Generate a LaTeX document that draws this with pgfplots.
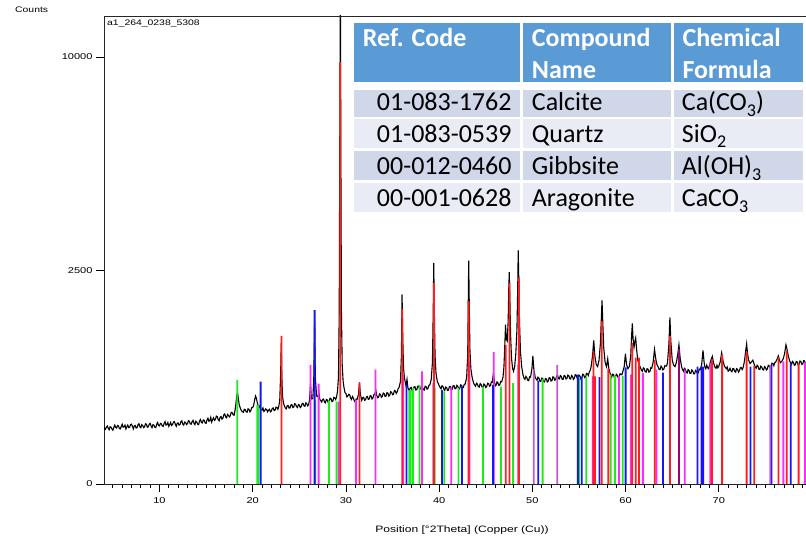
\documentclass[border=0pt]{standalone}
\usepackage{fontspec}
\setmainfont{Liberation Sans}
\newfontfamily\tabfont{Carlito}
\newfontfamily\axfont[FakeStretch=1.3]{Liberation Sans}
\usepackage{pgfplots}
\pgfplotsset{compat=1.18}
\definecolor{hdr}{RGB}{91,155,213}
\definecolor{rowA}{RGB}{207,215,233}
\definecolor{rowB}{RGB}{233,236,245}
\definecolor{calc}{RGB}{255,30,30}
\definecolor{quar}{RGB}{20,20,255}
\definecolor{gibb}{RGB}{30,235,30}
\definecolor{arag}{RGB}{255,40,255}
\definecolor{mixp}{RGB}{190,90,200}
\definecolor{mixd}{RGB}{150,0,130}
\newcommand{\sub}[1]{\raisebox{-5.5bp}{\fontsize{18bp}{18bp}\selectfont #1}}

\pgfplotstableread{
x y
4.0 13.5
4.1 13.0
4.2 12.8
4.3 13.3
4.4 13.6
4.5 13.1
4.6 12.7
4.7 13.4
4.8 13.3
4.9 12.9
5.0 12.6
5.1 13.2
5.2 13.8
5.3 13.3
5.4 13.1
5.5 13.7
5.6 13.6
5.7 13.0
5.8 12.9
5.9 13.5
6.0 14.0
6.1 13.3
6.2 13.4
6.3 13.8
6.4 12.9
6.5 13.4
6.6 13.8
6.7 13.2
6.8 13.3
6.9 13.9
7.0 14.0
7.1 13.5
7.2 12.9
7.3 13.6
7.4 13.7
7.5 13.1
7.6 13.2
7.7 13.9
7.8 14.1
7.9 13.4
8.0 13.2
8.1 13.9
8.2 13.7
8.3 13.2
8.4 13.4
8.5 14.1
8.6 14.0
8.7 13.3
8.8 13.4
8.9 14.0
9.0 14.2
9.1 13.6
9.2 13.2
9.3 13.9
9.4 13.8
9.5 13.3
9.6 13.2
9.7 14.0
9.8 14.4
9.9 13.7
10.0 13.6
10.1 14.2
10.2 14.1
10.3 13.6
10.4 13.5
10.5 14.2
10.6 14.6
10.7 13.8
10.8 13.9
10.9 14.4
11.0 13.5
11.1 13.9
11.2 14.4
11.3 13.7
11.4 13.9
11.5 14.5
11.6 14.6
11.7 14.0
11.8 13.5
11.9 14.2
12.0 14.3
12.1 13.8
12.2 13.9
12.3 14.6
12.4 14.8
12.5 14.0
12.6 13.8
12.7 14.5
12.8 14.4
12.9 13.9
13.0 14.1
13.1 14.8
13.2 14.7
13.3 14.1
13.4 14.0
13.5 14.6
13.6 14.9
13.7 14.2
13.8 13.9
13.9 14.7
14.0 14.5
14.1 14.0
14.2 13.9
14.3 14.8
14.4 15.1
14.5 14.4
14.6 14.3
14.7 15.0
14.8 14.9
14.9 14.3
15.0 14.2
15.1 15.0
15.2 15.4
15.3 14.7
15.4 14.8
15.5 15.6
15.6 14.5
15.7 15.1
15.8 15.5
15.9 14.9
16.0 15.1
16.1 15.9
16.2 15.8
16.3 15.1
16.4 14.8
16.5 15.6
16.6 15.8
16.7 15.2
16.8 15.4
16.9 16.2
17.0 16.4
17.1 15.7
17.2 15.5
17.3 16.3
17.4 16.1
17.5 15.7
17.6 16.0
17.7 16.8
17.8 16.7
17.9 16.2
18.0 16.1
18.1 17.2
18.2 18.8
18.3 20.9
18.38 21.4
18.45 20.2
18.55 18.6
18.7 17.6
18.85 17.0
19.0 16.8
19.1 17.5
19.2 17.4
19.3 16.9
19.4 16.8
19.5 17.6
19.6 17.5
19.7 16.9
19.8 17.2
19.9 17.9
20.0 17.9
20.1 18.4
20.2 19.6
20.3 20.6
20.38 20.2
20.5 19.0
20.6 18.2
20.7 18.3
20.8 17.8
20.9 17.4
21.0 17.3
21.1 17.8
21.2 17.0
21.3 17.2
21.4 17.6
21.5 17.4
21.6 16.9
21.7 17.3
21.8 17.5
21.9 16.9
22.0 17.1
22.1 17.7
22.2 17.8
22.3 17.2
22.4 17.3
22.5 18.0
22.6 17.9
22.7 17.5
22.8 18.2
22.9 19.5
23.0 26.0
23.06 33.0
23.12 25.5
23.2 20.5
23.3 19.0
23.4 18.3
23.5 17.8
23.6 17.6
23.7 18.3
23.8 18.4
23.9 17.8
24.0 17.8
24.1 18.5
24.2 18.6
24.3 17.9
24.4 18.0
24.5 18.8
24.6 18.7
24.7 18.1
24.8 17.9
24.9 18.6
25.0 18.5
25.1 17.9
25.2 18.1
25.3 18.8
25.4 18.9
25.5 18.3
25.6 18.2
25.7 19.0
25.8 18.8
25.9 18.3
26.0 18.6
26.1 19.8
26.2 23.5
26.3 19.9
26.45 20.0
26.55 24.5
26.64 38.0
26.72 25.0
26.85 20.6
27.0 20.4
27.1 21.5
27.2 19.8
27.3 19.5
27.4 19.2
27.5 19.8
27.6 19.9
27.7 19.2
27.8 19.0
27.9 19.8
28.0 19.7
28.1 19.1
28.2 19.3
28.3 20.1
28.4 20.0
28.5 19.3
28.6 19.4
28.7 20.3
28.8 20.2
28.9 19.8
29.0 20.4
29.1 21.8
29.2 25.0
29.28 40.0
29.34 80.0
29.4 118.0
29.46 75.0
29.52 40.0
29.6 28.0
29.7 24.0
29.8 22.5
29.9 21.4
30.0 21.2
30.1 20.4
30.2 20.6
30.3 21.0
30.4 20.9
30.5 20.1
30.6 19.8
30.7 20.5
30.8 20.1
30.9 19.5
31.0 19.2
31.1 19.9
31.2 19.8
31.35 21.0
31.45 23.8
31.55 21.0
31.7 19.6
31.8 20.2
31.9 20.3
32.0 19.6
32.1 19.7
32.2 20.4
32.3 20.5
32.4 19.8
32.5 19.9
32.6 20.7
32.7 20.6
32.8 19.9
32.9 20.2
33.0 20.9
33.1 21.0
33.2 22.0
33.3 20.8
33.4 20.2
33.5 20.3
33.6 21.1
33.7 21.0
33.8 20.3
33.9 20.5
34.0 21.3
34.1 21.2
34.2 20.5
34.3 20.6
34.4 21.4
34.5 21.3
34.6 20.6
34.7 20.8
34.8 21.6
34.9 21.5
35.0 20.9
35.1 21.0
35.2 21.9
35.3 21.8
35.4 21.2
35.5 21.6
35.6 22.3
35.7 22.6
35.85 24.0
35.95 30.0
36.02 44.4
36.1 34.0
36.18 27.0
36.3 24.5
36.45 23.0
36.55 24.5
36.65 22.5
36.8 21.8
36.9 22.5
37.0 22.6
37.1 21.9
37.2 22.0
37.3 22.7
37.4 22.8
37.5 22.0
37.6 22.1
37.7 22.9
37.8 22.9
37.9 22.2
38.0 22.3
38.1 23.0
38.2 22.7
38.3 22.1
38.4 22.0
38.5 22.9
38.6 22.8
38.7 22.2
38.8 22.4
38.9 23.1
39.0 23.2
39.15 24.5
39.28 28.5
39.36 40.0
39.42 51.8
39.48 41.0
39.56 30.0
39.66 26.0
39.8 24.0
39.9 23.6
40.0 23.0
40.1 22.6
40.2 22.3
40.3 23.0
40.4 22.9
40.5 22.2
40.6 21.9
40.7 22.7
40.8 22.6
40.9 21.9
41.0 22.0
41.1 22.8
41.2 22.8
41.3 22.0
41.4 22.2
41.5 23.0
41.6 23.0
41.7 22.3
41.8 22.4
41.9 23.1
42.0 22.9
42.1 22.2
42.2 22.3
42.3 23.2
42.4 23.1
42.5 22.5
42.6 22.6
42.7 23.4
42.8 23.4
42.95 25.0
43.06 30.0
43.12 42.0
43.17 52.3
43.23 42.0
43.3 31.5
43.4 27.0
43.55 24.8
43.7 23.6
43.8 23.2
43.9 22.9
44.0 23.6
44.1 23.4
44.2 22.8
44.3 22.7
44.4 23.5
44.5 23.3
44.6 22.7
44.7 22.6
44.8 23.4
44.9 23.2
45.0 22.6
45.1 22.8
45.2 23.6
45.3 23.5
45.4 22.9
45.5 23.0
45.6 23.9
45.7 23.8
45.82 26.0
45.95 23.6
46.05 23.0
46.1 23.1
46.2 23.9
46.3 23.7
46.4 23.1
46.5 23.2
46.6 24.0
46.7 23.9
46.85 25.0
46.95 27.5
47.05 33.0
47.12 37.3
47.2 34.0
47.3 33.5
47.4 38.0
47.47 46.0
47.52 49.6
47.58 44.0
47.66 35.0
47.76 29.5
47.88 27.0
47.98 26.4
48.1 27.5
48.22 30.5
48.34 36.0
48.42 45.0
48.48 54.7
48.54 48.0
48.62 38.0
48.72 31.0
48.85 27.5
49.0 25.5
49.1 24.8
49.2 24.5
49.3 25.2
49.4 24.9
49.5 24.3
49.6 24.2
49.7 25.1
49.8 25.0
49.95 27.0
50.05 30.0
50.15 27.0
50.3 25.0
50.4 24.6
50.5 24.3
50.6 25.0
50.7 24.8
50.8 24.1
50.9 24.0
51.0 24.8
51.1 24.7
51.2 24.0
51.3 23.9
51.4 24.7
51.5 24.6
51.6 23.9
51.7 24.1
51.8 24.9
51.9 24.8
52.0 24.1
52.1 24.2
52.2 25.1
52.3 25.0
52.4 24.3
52.5 24.5
52.6 25.3
52.7 25.5
52.8 24.7
52.9 24.6
53.0 25.4
53.1 25.2
53.2 24.5
53.3 24.5
53.4 25.4
53.5 25.3
53.6 24.6
53.7 24.7
53.8 25.5
53.9 25.4
54.0 24.7
54.1 24.6
54.2 25.4
54.3 25.2
54.4 24.5
54.5 24.8
54.6 25.6
54.7 25.5
54.8 24.8
54.9 24.7
55.0 25.5
55.1 25.3
55.2 24.6
55.3 24.9
55.4 25.7
55.5 25.6
55.6 24.9
55.7 25.0
55.8 25.9
55.9 25.8
56.0 25.4
56.1 26.2
56.2 26.6
56.3 27.5
56.45 30.0
56.58 33.6
56.7 30.0
56.85 28.0
57.0 27.5
57.15 29.0
57.3 33.0
57.4 39.0
57.47 43.0
57.55 38.0
57.65 32.0
57.8 28.5
57.95 27.5
58.08 29.3
58.2 27.0
58.35 25.8
58.5 25.0
58.6 25.7
58.7 25.6
58.8 24.9
58.9 24.9
59.0 25.7
59.1 25.5
59.2 24.9
59.3 25.0
59.4 25.8
59.5 25.7
59.6 25.6
59.7 26.3
59.85 27.5
59.98 30.5
60.1 28.0
60.25 27.0
60.4 27.5
60.55 30.0
60.65 35.0
60.72 37.6
60.8 34.0
60.9 32.0
61.0 33.5
61.08 34.2
61.18 31.5
61.3 29.0
61.45 28.0
61.6 27.2
61.7 26.6
61.8 26.4
61.9 27.2
62.0 27.0
62.1 26.3
62.2 26.2
62.3 27.0
62.4 26.9
62.5 26.2
62.6 26.3
62.7 27.2
62.8 27.1
62.95 28.5
63.1 31.5
63.22 29.5
63.35 28.0
63.5 27.4
63.6 26.8
63.7 26.8
63.8 27.6
63.9 27.3
64.0 26.7
64.1 26.9
64.2 27.7
64.3 27.6
64.4 27.6
64.5 28.6
64.65 33.0
64.75 39.0
64.85 33.5
65.0 29.0
65.15 27.8
65.3 27.5
65.45 28.5
65.6 30.5
65.72 32.6
65.85 29.5
66.0 27.5
66.1 26.8
66.2 26.4
66.3 27.1
66.4 26.9
66.5 26.2
66.6 26.0
66.7 26.8
66.8 26.6
66.9 25.9
67.0 25.9
67.1 26.7
67.2 26.5
67.3 25.8
67.4 25.8
67.5 26.6
67.6 26.4
67.7 25.9
67.8 26.0
67.9 26.9
68.0 26.8
68.15 27.8
68.3 31.3
68.42 28.5
68.5 27.4
68.6 27.0
68.7 27.8
68.8 27.2
68.9 27.0
69.0 27.8
69.15 29.0
69.3 29.9
69.45 28.2
69.6 27.3
69.7 27.1
69.8 27.8
69.9 27.2
70.0 27.6
70.15 28.6
70.3 30.7
70.45 28.8
70.6 27.6
70.7 27.3
70.8 27.0
70.9 27.4
71.0 26.4
71.1 26.6
71.2 27.1
71.3 26.5
71.4 26.3
71.5 27.0
71.6 27.0
71.7 26.4
71.8 26.2
71.9 27.0
72.0 26.9
72.1 26.2
72.2 26.5
72.3 27.2
72.4 27.3
72.5 26.8
72.6 27.2
72.75 28.8
72.9 31.5
72.98 32.8
73.08 30.5
73.2 29.0
73.35 28.2
73.5 28.6
73.65 29.0
73.8 28.0
73.9 27.4
74.0 27.1
74.1 27.8
74.2 27.6
74.3 26.9
74.4 26.8
74.5 27.6
74.6 27.4
74.7 26.8
74.8 26.7
74.9 27.5
75.0 27.3
75.1 26.7
75.2 26.9
75.3 27.8
75.4 27.7
75.5 27.1
75.6 27.6
75.7 28.3
75.8 28.2
75.9 27.7
76.0 28.4
76.1 28.6
76.2 29.0
76.38 30.0
76.5 29.0
76.6 28.4
76.7 28.6
76.8 28.9
76.9 29.3
77.05 30.5
77.2 32.6
77.32 31.5
77.45 30.0
77.6 28.8
77.7 28.4
77.8 28.0
77.9 28.7
78.0 28.5
78.1 27.8
78.2 27.9
78.3 28.7
78.4 28.6
78.5 27.9
78.6 28.0
78.7 28.8
78.8 28.7
78.9 28.0
79.0 28.1
79.1 28.9
79.2 28.8
79.3 28.1
79.4 28.3
}\pattern

\begin{document}
\begin{tikzpicture}[x=1bp,y=1bp]
\useasboundingbox (0,0) rectangle (806,538);
\begin{axis}[
  at={(104bp,54bp)}, anchor=south west, scale only axis,
  width=702bp, height=468bp,
  xmin=4.05, xmax=79.35, ymin=0, ymax=109.6,
  axis x line*=bottom, axis y line*=left,
  axis line style={line width=0.9bp, black!85},
  xtick={10,20,...,70}, minor xtick={5,...,79},
  ytick={0,50,100}, yticklabels={0,2500,10000},
  tick align=outside, major tick length=8bp, minor tick length=4bp,
  tick style={black, line width=0.8bp},
  tick label style={font=\axfont\fontsize{8.5bp}{9bp}\selectfont},
  xticklabel style={yshift=-2bp},
  /pgf/number format/assume math mode=true,
  clip=true,
  stick/.style={ybar, bar width=1.8bp, bar shift=0pt, draw=none, fill=#1},
]
\addplot[black, line width=1.1bp, no marks] table[x=x,y=y] {\pattern};
% Gibbsite
\addplot[stick=gibb] coordinates {
(18.35,24.4) (20.48,18.5) (20.6,18.5) (26.7,19.7) (28.18,19.5) (29.0,19.3)
(36.8,22.0) (36.96,22.0) (37.2,22.5) (37.9,23.2) (39.53,22.5) (40.55,21.7)
(42.08,22.5) (44.7,22.8) (46.63,22.8) (47.92,23.6) (51.1,24.6) (55.02,24.8)
(55.77,25.0) (58.4,25.6) (58.86,25.3) (59.7,25.3)};
% Aragonite
\addplot[stick=arag] coordinates {
(26.2,27.9) (27.07,23.5) (29.22,19.3) (31.08,19.7) (33.17,26.8) (36.15,25.6)
(38.17,26.4) (41.29,22.8) (43.24,28.7) (45.85,30.9) (48.48,28.0) (56.48,25.2)
(59.28,25.3) (60.57,25.6) (61.85,26.0) (63.31,26.8) (66.34,26.8) (69.07,28.3)
(76.92,28.7) (79.25,28.5)};
% Quartz
\addplot[stick=quar] coordinates {
(20.85,24.0) (26.64,40.7) (36.5,23.2) (40.3,22.0) (42.45,22.8) (45.79,23.2)
(50.62,24.2) (54.88,25.6) (55.29,25.0) (57.2,25.0) (60.0,27.3) (64.02,26.1)
(67.7,27.5) (68.14,27.5) (68.32,27.5) (73.4,27.5) (75.65,27.9) (77.72,28.3)};
% overlapping lines (purple)
\addplot[stick=mixp] coordinates {
(39.38,23.6) (50.14,26.8) (52.66,27.9) (75.52,27.9)};
% Calcite
\addplot[stick=calc] coordinates {
(23.08,34.7) (29.4,98.8) (31.45,23.6) (36.05,41.0) (39.44,47.1) (43.16,42.8)
(47.15,32.6) (47.54,47.1) (48.55,48.3) (56.55,31.0) (56.72,25.2) (57.45,38.2)
(58.15,27.0) (60.72,33.0) (61.08,29.6) (61.44,29.6) (63.13,29.1) (64.76,34.7)
(69.25,29.1) (70.35,30.2) (72.98,30.8) (73.8,27.7) (76.4,29.7) (77.28,31.2)
(78.56,28.3)};
\addplot[stick=mixd] coordinates {(65.74,31.5)};
\end{axis}
% top frame line
\draw[line width=0.9bp, black!85] (104,522) -- (806,522);
% texts
\node[anchor=base west, inner sep=0, font=\axfont\fontsize{8bp}{9bp}\selectfont] at (15,525.5) {Counts};
\node[anchor=base west, inner sep=0, font=\axfont\fontsize{8bp}{9bp}\selectfont] at (107,512.5) {a1\_264\_0238\_5308};
\node[inner sep=0, font=\axfont\fontsize{9.3bp}{10bp}\selectfont] at (462,8) {Position [°2Theta] (Copper (Cu))};
% table
\fill[hdr] (354,456) rectangle (520,515);
\fill[hdr] (523,456) rectangle (671,515);
\fill[hdr] (674,456) rectangle (803,515);
\foreach \yb/\yt/\c in {421/448/rowA, 390/419/rowB, 358/387/rowA, 326/355/rowB}{
  \fill[\c] (354,\yb) rectangle (520,\yt);
  \fill[\c] (523,\yb) rectangle (671,\yt);
  \fill[\c] (674,\yb) rectangle (803,\yt);
}
\begin{scope}[every node/.style={inner sep=0, font=\tabfont\fontsize{26bp}{30bp}\selectfont}]
\node[anchor=base west, text=white, font=\tabfont\bfseries\fontsize{26bp}{30bp}\selectfont] at (362.7,491.3) {Ref. Code};
\node[anchor=base west, text=white, font=\tabfont\bfseries\fontsize{26bp}{30bp}\selectfont] at (531.7,491.3) {Compound};
\node[anchor=base west, text=white, font=\tabfont\bfseries\fontsize{26bp}{30bp}\selectfont] at (531.7,459.7) {Name};
\node[anchor=base west, text=white, font=\tabfont\bfseries\fontsize{26bp}{30bp}\selectfont] at (682.3,491.3) {Chemical};
\node[anchor=base west, text=white, font=\tabfont\bfseries\fontsize{26bp}{30bp}\selectfont] at (682.3,459.7) {Formula};
\node[anchor=base east] at (511.7,427) {01-083-1762};
\node[anchor=base east] at (511.7,395.7) {01-083-0539};
\node[anchor=base east] at (511.7,363) {00-012-0460};
\node[anchor=base east] at (511.7,331.3) {00-001-0628};
\node[anchor=base west] at (531.7,427) {Calcite};
\node[anchor=base west] at (531.7,395.7) {Quartz};
\node[anchor=base west] at (531.7,363) {Gibbsite};
\node[anchor=base west] at (531.7,331.3) {Aragonite};
\node[anchor=base west] at (681.7,427) {Ca(CO\sub{3})};
\node[anchor=base west] at (681.7,395.7) {SiO\sub{2}};
\node[anchor=base west] at (681.7,363) {Al(OH)\sub{3}};
\node[anchor=base west] at (681.7,331.3) {CaCO\sub{3}};
\end{scope}
\end{tikzpicture}
\end{document}
